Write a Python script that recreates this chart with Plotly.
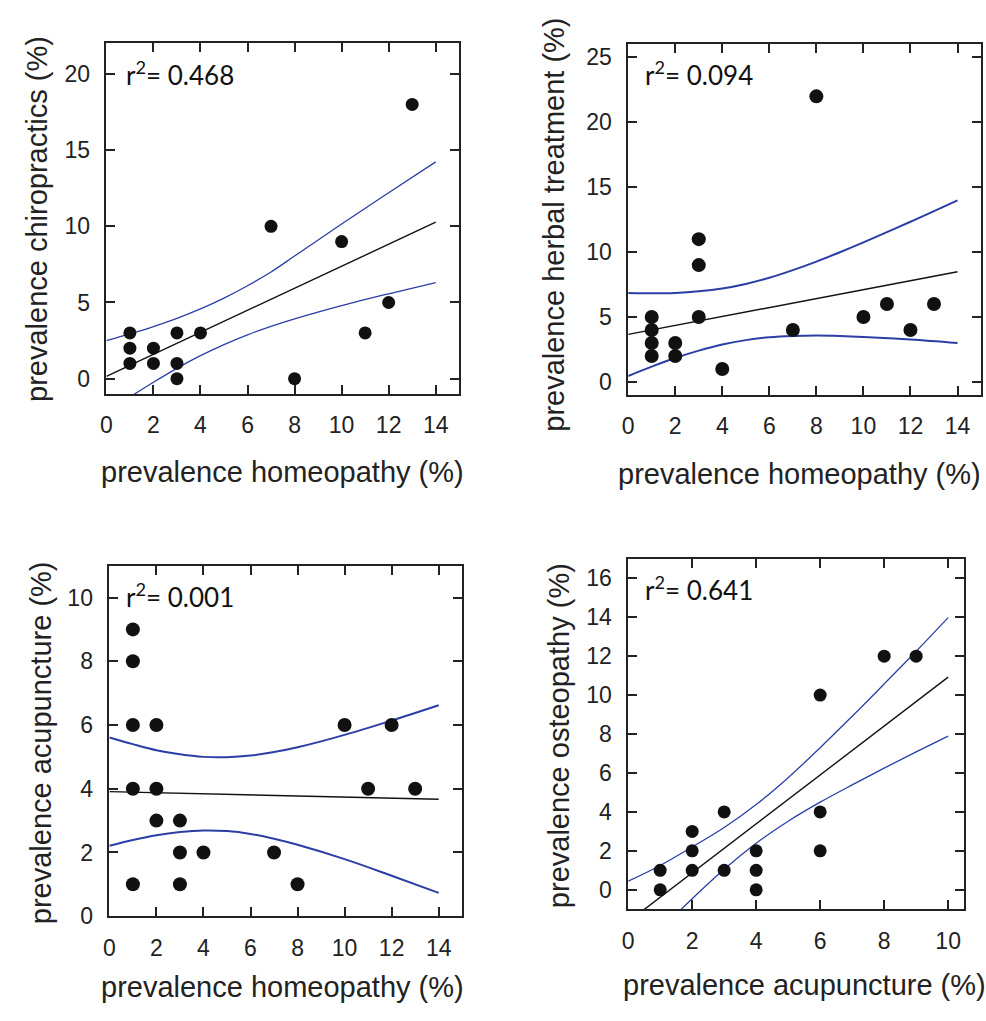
import plotly.graph_objects as go

W, H = 986, 1021

# ---------------- data ----------------
# Panel A: homeopathy vs chiropractics
homeo_a = [1, 1, 1, 2, 2, 3, 3, 3, 4, 7, 8, 10, 11, 12, 13]
chiro_a = [3, 2, 1, 2, 1, 3, 1, 0, 3, 10, 0, 9, 3, 5, 18]
fit_x_a = [0, 14]
fit_y_a = [0.15, 10.27]
band_x_a = [0, 1, 2, 3, 4, 5, 6, 7, 8, 10, 12, 14]
upper_a = [2.50, 2.94, 3.42, 3.96, 4.58, 5.29, 6.10, 7.00, 8.05, 10.15, 12.2, 14.23]
lower_a = [-2.20, -1.20, -0.23, 0.68, 1.51, 2.24, 2.88, 3.43, 3.92, 4.79, 5.57, 6.31]
r2_a = "0.468"

# Panel B: homeopathy vs herbal treatment
homeo_b = [1, 1, 1, 1, 2, 2, 3, 3, 3, 4, 7, 8, 10, 11, 12, 13]
herbal_b = [5, 4, 3, 2, 3, 2, 11, 9, 5, 1, 4, 22, 5, 6, 4, 6]
fit_x_b = [0, 14]
fit_y_b = [3.66, 8.49]
band_x_b = [0, 1, 2, 3, 4, 5, 6, 7, 8, 9, 10, 12, 14]
upper_b = [6.86, 6.83, 6.86, 6.98, 7.20, 7.55, 8.02, 8.61, 9.27, 9.99, 10.75, 12.34, 13.99]
lower_b = [0.46, 1.18, 1.84, 2.41, 2.88, 3.22, 3.44, 3.54, 3.57, 3.54, 3.47, 3.26, 2.99]
r2_b = "0.094"

# Panel C: homeopathy vs acupuncture
homeo_c = [1, 1, 1, 1, 1, 2, 2, 2, 3, 3, 3, 4, 7, 8, 10, 11, 12, 13]
acup_c = [9, 8, 6, 4, 1, 6, 4, 3, 3, 2, 1, 2, 2, 1, 6, 4, 6, 4]
fit_x_c = [0, 14]
fit_y_c = [3.91, 3.67]
band_x_c = [0, 1, 2, 3, 4, 5, 6, 7, 8, 10, 12, 14]
upper_c = [5.61, 5.40, 5.21, 5.08, 5.00, 4.99, 5.04, 5.15, 5.30, 5.69, 6.14, 6.62]
lower_c = [2.21, 2.39, 2.54, 2.64, 2.69, 2.67, 2.58, 2.43, 2.24, 1.79, 1.27, 0.73]
r2_c = "0.001"

# Panel D: acupuncture vs osteopathy
acup_d = [1, 1, 2, 2, 2, 3, 3, 4, 4, 4, 6, 6, 6, 8, 9]
osteo_d = [1, 0, 3, 2, 1, 4, 1, 2, 1, 0, 10, 4, 2, 12, 12]
fit_x_d = [0, 10]
fit_y_d = [-1.64, 10.92]
band_x_d = [0, 1, 2, 3, 4, 5, 6, 7, 8, 9, 10]
upper_d = [0.44, 1.25, 2.20, 3.20, 4.38, 5.76, 7.30, 8.91, 10.57, 12.25, 13.98]
lower_d = [-3.72, -2.06, -0.46, 1.05, 2.39, 3.52, 4.50, 5.39, 6.25, 7.08, 7.89]
r2_d = "0.641"

x_title_homeo = "prevalence homeopathy (%)"
x_title_acup = "prevalence acupuncture (%)"
y_titles = ["prevalence chiropractics (%)", "prevalence herbal treatment (%)",
            "prevalence acupuncture (%)", "prevalence osteopathy (%)"]

# ---------------- styling ----------------
BLUE = "#2b3ea6"
DOT = "#111111"
AX = "#222222"
TICK_FONT = dict(family="Liberation Sans, Arial, sans-serif", size=23, color="#222222")
TITLE_FONT = dict(family="Liberation Sans, Arial, sans-serif", size=29, color="#222222")
R2_FONT = dict(family="Lato, Open Sans, sans-serif", size=26, color="#111111")


def px_x(v):
    return v / W


def px_y(v):
    return 1 - v / H


panels = [
    dict(x=homeo_a, y=chiro_a, fx=fit_x_a, fy=fit_y_a, bx=band_x_a, up=upper_a, lo=lower_a,
         r2=r2_a, box=(101, 456, 44, 399), xr=[0, 15], yr=[-1, 22], xd=2, yd=5,
         ms=13, bw=1.3, xt=x_title_homeo, xt_pos=(278, 478), yt_pos=(31, 222), r2_pos=(119, 74)),
    dict(x=homeo_b, y=herbal_b, fx=fit_x_b, fy=fit_y_b, bx=band_x_b, up=upper_b, lo=lower_b,
         r2=r2_b, box=(626, 981, 45, 400), xr=[0, 15], yr=[-1, 26], xd=2, yd=5,
         ms=14, bw=2.0, xt=x_title_homeo, xt_pos=(798, 480), yt_pos=(551, 228), r2_pos=(641, 74)),
    dict(x=homeo_c, y=acup_c, fx=fit_x_c, fy=fit_y_c, bx=band_x_c, up=upper_c, lo=lower_c,
         r2=r2_c, box=(104, 459, 573, 928), xr=[0, 15], yr=[0, 11], xd=2, yd=2,
         ms=14, bw=2.0, xt=x_title_homeo, xt_pos=(278, 1000), yt_pos=(36, 752), r2_pos=(119, 603)),
    dict(x=acup_d, y=osteo_d, fx=fit_x_d, fy=fit_y_d, bx=band_x_d, up=upper_d, lo=lower_d,
         r2=r2_d, box=(626, 964, 566, 921), xr=[0, 10.5], yr=[-1, 17], xd=2, yd=2,
         ms=13, bw=1.3, xt=x_title_acup, xt_pos=(803, 998), yt_pos=(556, 745), r2_pos=(641, 596)),
]

fig = go.Figure()
annotations = []
layout_axes = {}

for i, p in enumerate(panels, start=1):
    suffix = "" if i == 1 else str(i)
    xa, ya = "x" + suffix, "y" + suffix
    for band in (p["up"], p["lo"]):
        fig.add_trace(go.Scatter(x=p["bx"], y=band, mode="lines", xaxis=xa, yaxis=ya,
                                 line=dict(color=BLUE, width=p["bw"], shape="spline", smoothing=1.0),
                                 hoverinfo="skip", showlegend=False))
    fig.add_trace(go.Scatter(x=p["fx"], y=p["fy"], mode="lines", xaxis=xa, yaxis=ya,
                             line=dict(color="#111111", width=1.4),
                             hoverinfo="skip", showlegend=False))
    fig.add_trace(go.Scatter(x=p["x"], y=p["y"], mode="markers", xaxis=xa, yaxis=ya,
                             marker=dict(color=DOT, size=p["ms"], line=dict(width=0)),
                             showlegend=False))
    x0, x1, y0, y1 = p["box"]
    common = dict(showgrid=False, zeroline=False, showline=True, linecolor=AX, linewidth=1.6,
                  mirror="ticks", ticks="inside", ticklen=9, tickwidth=1.6, tickcolor=AX,
                  tickfont=TICK_FONT)
    layout_axes["xaxis" + suffix] = dict(common, domain=[px_x(x0), px_x(x1)], range=p["xr"],
                                         tick0=0, dtick=p["xd"], anchor=ya, ticklabelstandoff=10)
    layout_axes["yaxis" + suffix] = dict(common, domain=[px_y(y1), px_y(y0)], range=p["yr"],
                                         tick0=0, dtick=p["yd"], anchor=xa, ticklabelstandoff=10)
    annotations.append(dict(text="r<sup>2</sup>= " + p["r2"], xref="paper", yref="paper",
                            x=px_x(p["r2_pos"][0]), y=px_y(p["r2_pos"][1]),
                            xanchor="left", yanchor="middle", showarrow=False, font=R2_FONT))
    annotations.append(dict(text=p["xt"], xref="paper", yref="paper",
                            x=px_x(p["xt_pos"][0]), y=px_y(p["xt_pos"][1]),
                            xanchor="center", yanchor="middle", showarrow=False, font=TITLE_FONT))
    annotations.append(dict(text=y_titles[i - 1], xref="paper", yref="paper", textangle=-90,
                            x=px_x(p["yt_pos"][0]), y=px_y(p["yt_pos"][1]),
                            xanchor="center", yanchor="middle", showarrow=False, font=TITLE_FONT))

fig.update_layout(width=W, height=H, margin=dict(l=0, r=0, t=0, b=0),
                  paper_bgcolor="white", plot_bgcolor="white",
                  annotations=annotations, **layout_axes)

# remove the default page margin so the figure sits exactly in the window
fig.write_html("out.html",
               config={"displayModeBar": False},
               post_script="document.body.style.margin='0';document.body.style.overflow='hidden';")
